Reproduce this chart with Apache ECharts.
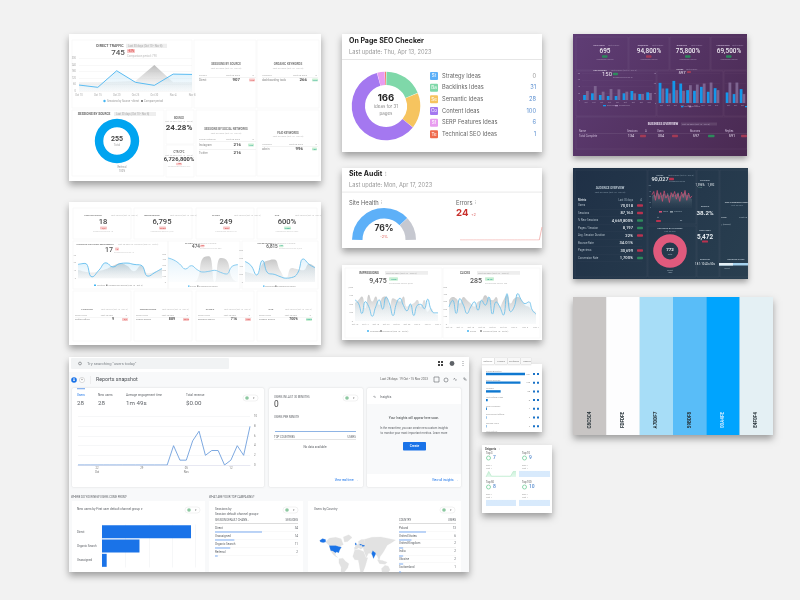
<!DOCTYPE html>
<html><head><meta charset="utf-8">
<style>html,body{margin:0;padding:0;background:#f2f2f2;overflow:hidden}#c{width:800px;height:600px;filter:blur(.5px)}</style>
<script src="https://cdn.jsdelivr.net/npm/echarts@6/dist/echarts.min.js"></script>
</head><body><div id="c"></div>
<script>
// ---------- data ----------
const directDays=['Oct 10','Oct 15','Oct 20','Oct 25','Oct 30','Nov 4','Nov 8'];
const directTraffic=[55,34,187,80,52,156,153];
const directCompare=[80,80,85,92,239,80,80];
const sourceDonut=[{name:'Referral',value:255}];
const seoIdeas=['Strategy Ideas','Backlinks Ideas','Semantic Ideas','Content Ideas','SERP Features Ideas','Technical SEO Ideas'];
const seoValues=[0,31,28,100,6,1];
const seoShort=['St','Ba','Se','Co','Sf','Te'];
const seoColors=['#5db0f8','#7fd8a9','#f6c45f','#a478f0','#e89cf0','#ef6a4c'];
const siteHealth=[76,24];
const errorsTrend=[0,0,0,0,0,0,0,0,0,0,0,0,0,0,0,0,0,0,0,0,0,0,0,0,0,0,0,0,0,0,24];
const gscDays=['Oct 10','','','Oct 14','','','Oct 18','','','Oct 22','','','Oct 26','','','Oct 30','','','Nov 3','','','Nov 5','','','Nov 7'];
const impressions=[620,520,220,570,420,140,420,620,350,700,500,160,520,670,460,300,500,160,460,490,360,640,340,240,240];
const impressionsPrev=[520,620,720,370,770,570,720,470,700,720,420,670,620,570,720,420,470,520,620,420,620,270,370,220,170];
const clicks=[232,321,143,343,254,143,232,299,187,321,254,366,134,299,232,120,410,165,232,410,321,276,299,187,134];
const clicksPrev=[321,366,343,276,366,321,276,232,299,321,388,343,321,366,232,321,388,276,343,366,321,254,232,187,165];
const kpiTitles=['CONSULTATION','IMPRESSIONS','CLICKS','CTR'];
const kpiValues=['18','6,795','249','600%'];
const kpiChips=['-6/7','-70.5%','-85%','+600%'];
const weekCats=['','','','','','','','','','','','',''];
const avgPosition=[18,19.3,2.1,10.7,20,14.7,19,19.7,18,17,3,7.7,12.9];
const avgPositionPrev=[10.7,8.6,7.7,9.4,12,16.3,19.3,16.3,9.4,16.3,6.4,8.6,12];
const clicksWeek=[432,396,324,234,294,222,180,192,210,174,144,282,312];
const clicksWeekPrev=[0,0,0,0,0,42,432,462,0,432,402,72,0];
const imprWeek=[512,416,176,536,216,192,136,96,112,216,576,440,360];
const imprWeekPrev=[256,216,176,456,536,560,296,96,352,320,296,456,376];
const tableMetric=['POSITION','IMPRESSIONS','CLICKS','CTR'];
const tableNames=['Surfing Offers','Search Engine','Branded Search','Organic Search'];
const tableVals=['9','889','716','700%'];
const gaDays=['19','20','21','22\nOct','23','24','25','26','27','28','29','30','31','01','02','03','04','05\nNov','06','07','08','09','10','11','12','13','14','15'];
const gaUsers=[0,0,0,0,0,0,0,0,0,0,0,0,0,0,0,4,1,1,5,7,2,3,3,0,1,4,2,8];
const channels=['Direct','Organic Search','Unassigned'];
const channelUsers=[19,8,1];
const sessionCh=['Direct','Unassigned','Organic Search','Referral'];
const sessionVals=[34,14,11,2];
const countries=['Poland','United States','United Kingdom','India','Ukraine','Switzerland'];
const countryUsers=[13,6,2,2,2,1];
const purpleCats=['Oct','Oct','Oct','Oct','Oct','Oct','Oct','Oct','Oct'];
const purpleA=[15,20,15,12,12,20,27,18,23];
const purpleAprev=[27,42,25,33,32,25,20,18,21];
const purpleB=[61,44,67,59,39,37,49,34,45];
const purpleBprev=[44,29,39,37,54,56,59,62,39];
const purpleC=[32,27,42];
const purpleCprev=[62,62,27];
const purpleKpis=['695','94,800%','75,800%','69,500%'];
const audienceNames=['Users','Sessions','% New Sessions','Pages / Session','Avg. Session Duration','Bounce Rate','Pageviews','Conversion Rate'];
const audienceVals=['70,018','87,163','4,669,800%','8,197','22%','34.01%','30,699','1,700%'];
const audienceChip=['#b8324f','#b8324f','#2d8a5c','#2d8a5c','#b8324f','','#b8324f','#2d8a5c'];
const darkLine=[60,75,35,80,40,70,30,78,45,60,25,70,50,75,40,65,30,72,48,80,35,68,45,55];
const darkPrev=[50,60,55,70,62,55,60,65,50,68,55,60,66,58,62,70,52,60,65,72,58,60,45,40];
const darkDonut=[772];
const paletteHex=['C8C5C4','FDFDFE','A7DDF7','59BDF8','00A4FE','E4F0F4'];
const referrers=['Google Analytics','Search Console','LinkedIn','Lost Referral Links','Page Programs','Online Event Official','Missing Links'];
const referrerVals=[181,160,68,8,4,2,2];
const referrerTabs=['Referrer','Placed','Surfaced','Search'];
const snippetTitles=['Top 3','Top 10','Top 50','Top 100'];
const snippetVals=['7','9','8','10'];
const miniCats=['','','','','','','','','','','',''];
const snippet3=[0,7,1,1,1,1,1,1,1,1,7,7];
const snippet10=[9,9,9,9,9,9,9,9,9,9,9,9];
const snippet50=[8,8,8,8,8,8,8,8,8,8,8,8];
const snippet100=[10,10,10,10,10,10,10,10,10,10,10,10];
// crude outlines (lon, lat) for the world map in the country card
const worldShapes={
 'Canada':[[-140,60],[-125,72],[-95,75],[-70,70],[-60,52],[-80,46],[-95,49],[-125,49]],
 'United States':[[-125,49],[-95,49],[-80,46],[-68,45],[-76,35],[-81,26],[-90,29],[-97,26],[-107,31],[-118,33]],
 'Alaska':[[-168,65],[-155,71],[-140,68],[-140,60],[-152,58],[-165,60]],
 'Greenland':[[-55,60],[-60,76],[-35,83],[-20,74],[-40,62]],
 'Mexico':[[-118,33],[-107,31],[-97,26],[-95,18],[-85,12],[-95,15],[-107,22]],
 'Brazil':[[-80,8],[-62,10],[-50,0],[-35,-7],[-40,-20],[-55,-33],[-71,-33],[-70,-18],[-80,-5]],
 'Europe':[[-10,37],[-9,44],[0,50],[10,55],[8,62],[22,68],[35,68],[40,48],[30,42],[20,38],[10,42],[0,38]],
 'Poland':[[14,54],[23,54],[24,50],[15,50]],
 'United Kingdom':[[-6,50],[1,51],[-2,58],[-7,57]],
 'Ukraine':[[24,52],[38,50],[37,46],[25,46]],
 'Africa':[[-17,15],[-8,35],[10,37],[32,31],[43,12],[51,11],[40,-15],[30,-33],[18,-33],[12,-10],[8,4],[-8,5]],
 'Asia':[[40,48],[35,68],[70,75],[110,76],[140,72],[178,66],[160,58],[140,50],[130,38],[122,28],[108,15],[103,2],[95,16],[88,22],[80,28],[68,25],[55,25],[45,13],[35,30],[30,42]],
 'India':[[68,24],[74,34],[80,30],[88,26],[87,21],[80,12],[77,8],[73,17]],
 'Iran':[[45,38],[60,37],[62,26],[50,29]],
 'Indonesia':[[95,5],[118,3],[140,-3],[130,-9],[105,-7]],
 'Australia':[[114,-22],[130,-12],[145,-15],[153,-27],[145,-33],[116,-33]]
};
// ---------- helpers ----------
const SANS='Roboto, sans-serif', INTER='Inter, sans-serif';
const gfx=[], grid=[], xAxis=[], yAxis=[], series=[];
function R(x,y,w,h,fill,extra){gfx.push({type:'rect',z:(extra&&extra.z)||-5,silent:true,shape:{x,y,width:w,height:h,r:(extra&&extra.r)||0},style:Object.assign({fill},extra&&extra.style)});}
function card(x,y,w,h,fill){R(x,y,w,h,fill,{z:-20,style:{shadowBlur:7,shadowOffsetY:4,shadowColor:'rgba(0,0,0,.35)'}});}
function panel(x,y,w,h,stroke){R(x,y,w,h,'rgba(0,0,0,0)',{z:-10,style:{stroke:stroke||'#f6f6f6',lineWidth:.7}});}
function C(cx,cy,r,fill,stroke,lw){gfx.push({type:'circle',z:-4,silent:true,shape:{cx,cy,r},style:{fill:fill||'none',stroke:stroke||'none',lineWidth:lw||1}});}
function T(x,y,s,size,color,o){o=o||{};gfx.push({type:'text',z:20,silent:true,x,y,style:{text:s,fontSize:size,fontFamily:o.f||SANS,fontWeight:o.w||'normal',fill:color||'#555',align:o.a||'left',verticalAlign:'middle',textAlign:o.a||'left',textVerticalAlign:'middle'}});}
function chip(x,y,w,h,fill,s,color){R(x,y-h/2,w,h,fill,{r:.7});if(s)T(x+w/2,y,s,h*.7,color||'#fff',{a:'center',w:'bold'});}
function cart(x,y,w,h,cats,yo,xo){yo=yo||{};xo=xo||{};const i=grid.length;
 grid.push({left:x,top:y,width:w,height:h,containLabel:false,show:false});
 xAxis.push({type:'category',gridIndex:i,data:cats,boundaryGap:!!xo.gap,axisLine:{show:!!xo.line,lineStyle:{color:xo.line||'#ddd',width:.6}},axisTick:{show:false},splitLine:{show:false},
   axisLabel:{show:xo.size>0,fontSize:xo.size||3,color:xo.color||'#aaa',margin:xo.margin||2,interval:xo.interval===undefined?0:xo.interval,fontFamily:SANS,lineHeight:(xo.size||3)+.6}});
 yAxis.push({type:'value',gridIndex:i,min:yo.min||0,max:yo.max,interval:yo.interval,position:yo.right?'right':'left',axisLine:{show:false},axisTick:{show:false},
   splitLine:{show:!!yo.split,lineStyle:{color:yo.split||'#eee',width:.5}},
   axisLabel:{show:yo.size>0,fontSize:yo.size||3,color:yo.color||'#aaa',margin:yo.margin||2,fontFamily:SANS,hideOverlap:false}});
 return i;}
function hcart(x,y,w,h,cats,o){o=o||{};const i=grid.length;
 grid.push({left:x,top:y,width:w,height:h,show:false});
 xAxis.push({type:'value',gridIndex:i,min:0,max:o.max,interval:o.interval,axisLine:{show:false},axisTick:{show:false},axisLabel:{show:false},splitLine:{show:!!o.split,lineStyle:{color:o.split||'#eee',width:.5}}});
 yAxis.push({type:'category',gridIndex:i,data:cats,inverse:true,axisLine:{show:false},axisTick:{show:false},axisLabel:{show:false},splitLine:{show:false}});
 return i;}
function line(g,data,color,o){o=o||{};const s={type:'line',xAxisIndex:g,yAxisIndex:g,data,showSymbol:false,smooth:o.smooth||false,silent:true,animation:false,z:o.z||3,
  lineStyle:{color,width:o.w===undefined?1:o.w,type:o.type||'solid'},itemStyle:{color}};
 if(o.area)s.areaStyle={opacity:1,color:{type:'linear',x:0,y:0,x2:0,y2:1,colorStops:[{offset:0,color:o.area[0]},{offset:1,color:o.area[1]}]}};
 series.push(s);}
function bar(g,data,color,o){o=o||{};series.push(Object.assign({type:'bar',xAxisIndex:g,yAxisIndex:g,data,silent:true,animation:false,itemStyle:{color},barWidth:o.bw,barGap:o.gap||'0%',z:3},o.extra||{}));}
function ring(cx,cy,r0,r1,data,colors,extra){series.push(Object.assign({type:'pie',center:[cx,cy],radius:[r0,r1],silent:true,animation:false,label:{show:false},labelLine:{show:false},
  data:data.map((d,i)=>({value:d.value!==undefined?d.value:d,name:d.name||String(i),itemStyle:{color:colors[i]}})),startAngle:90,clockwise:true,z:3},extra||{}));}

// ---------- card A : traffic ----------
card(69,34,252,147,'#fff');
[[72,40,120,68],[194,40,62,68],[257,40,62,68],[72,110,92,66],[166,110,28,34],[166,145,28,32],[196,110,60,66],[257,110,62,66]].forEach(p=>panel(...p));
T(110,46,'DIRECT TRAFFIC',3.6,'#666',{a:'center',w:'bold'});
R(126,43.8,41,4.2,'#eee');T(128,46,'Last 30 days (Oct 10 - Nov 8)',2.7,'#aaa');
T(118,53,'745',8,'#555',{a:'center',w:'500'});
chip(127,51,8,4,'#f7c6c6','-61%','#d55');T(127,56,'Comparison period: 790',2.8,'#bbb');
{const g=cart(79,58.5,113,32.5,directDays,{max:300,interval:60,size:2.6,split:'#f0f0f0',margin:3},{size:2.6,margin:3});
 line(g,directCompare,'#c8c8c8',{w:0,area:['rgba(165,165,165,.75)','rgba(235,235,235,.2)'],z:2});
 line(g,directTraffic,'#5bbcf2',{w:1,area:['rgba(170,220,245,.45)','rgba(225,240,248,.2)'],z:3});}
C(104.5,101,1.2,'#43b5f2');T(107,101,'Sessions by Source - direct',2.7,'#999');
R(141,100,2,2,'#888');T(144,101,'Compare period',2.7,'#999');
T(226,64,'SESSIONS BY SOURCE',2.9,'#777',{a:'center',w:'bold'});T(226,68,'Last 30 days (Oct 10 - Nov 8)',2.4,'#bbb',{a:'center'});
T(199,75,'Source',2.5,'#aaa');T(240,75,'Last 30 days',2.5,'#aaa',{a:'right'});T(254,75,'Δ',2.5,'#aaa',{a:'right'});
R(199,77,57,.4,'#e8e8e8');T(199,80,'Direct',2.8,'#888');T(240,80,'907',4.3,'#555',{a:'right',w:'bold'});chip(249,80,6,3,'#f7c6c6','-61%','#d55');
T(288,64,'ORGANIC KEYWORDS',2.9,'#777',{a:'center',w:'bold'});T(288,68,'Last 30 days (Oct 10 - Nov 8)',2.4,'#bbb',{a:'center'});
T(262,75,'Keyword',2.5,'#aaa');T(307,75,'Last 30 days',2.5,'#aaa',{a:'right'});T(317,75,'Δ',2.5,'#aaa',{a:'right'});
R(262,77,56,.4,'#e8e8e8');T(262,80,'dashboarding tools',2.8,'#888');T(307,80,'266',4.3,'#555',{a:'right',w:'bold'});chip(312,80,6,3,'#c9efd3','+24%','#3a9');
T(94,114,'SESSIONS BY SOURCE',3.2,'#666',{a:'center',w:'bold'});R(114,112,42,4,'#eee');T(116,114,'Last 30 days (Oct 10 - Nov 8)',2.6,'#aaa');
ring(117,141,13.7,22.2,sourceDonut,['#00a4f0']);
T(117,139,'255',7,'#444',{a:'center',w:'bold'});T(117,145,'Total',3,'#aaa',{a:'center'});
T(122,167,'Referral',2.6,'#999',{a:'center'});T(122,171,'100%',2.6,'#999',{a:'center'});
T(179,118,'BOUNCE',2.6,'#777',{a:'center',w:'bold'});T(179,121,'Last 30 days (Oct 10 - Nov 8)',2.2,'#bbb',{a:'center'});T(179,128,'24.28%',8,'#444',{a:'center',w:'bold'});
T(179,152,'CTR/CPC',2.6,'#777',{a:'center',w:'bold'});T(179,155,'Last 30 days (Oct 10 - Nov 8)',2.2,'#bbb',{a:'center'});T(179,160,'6,726,800%',5.8,'#444',{a:'center',w:'bold'});chip(176,164,6,2.6,'#f7c6c6','-15%','#d55');T(179,166.7,'Comparison period: 99%',2.1,'#ccc',{a:'center'});
T(226,129,'SESSIONS BY SOCIAL NETWORKS',2.8,'#777',{a:'center',w:'bold'});T(226,133,'Last 30 days (Oct 10 - Nov 8)',2.4,'#bbb',{a:'center'});
T(199,139,'Social Network',2.5,'#aaa');T(240,139,'Last 30 days',2.5,'#aaa',{a:'right'});T(254,139,'Δ',2.5,'#aaa',{a:'right'});
R(199,141,57,.4,'#e8e8e8');T(199,145,'Instagram',2.8,'#888');T(241,145,'216',4.3,'#555',{a:'right',w:'bold'});chip(248,145,6,3,'#c9efd3','+9%','#3a9');
R(199,149,57,.4,'#e8e8e8');T(199,153,'Twitter',2.8,'#888');T(241,153,'216',4.3,'#555',{a:'right',w:'bold'});
T(288,133,'PAID KEYWORDS',2.8,'#777',{a:'center',w:'bold'});T(288,136,'Last 30 days (Oct 10 - Nov 8)',2.4,'#bbb',{a:'center'});
T(262,144,'Keyword',2.5,'#aaa');T(303,144,'Last 30 days',2.5,'#aaa',{a:'right'});T(317,144,'Δ',2.5,'#aaa',{a:'right'});
R(262,146,56,.4,'#e8e8e8');T(262,149,'adwin',2.8,'#888');T(303,149,'996',4.3,'#555',{a:'right',w:'bold'});chip(312,149,5,3,'#c9efd3','+5%','#3a9');

// ---------- card B : SEO checker ----------
card(342,34,200,118,'#fff');
T(349,40.5,'On Page SEO Checker',7,'#222',{f:INTER,w:'bold'});T(420,40.5,'⁝',6,'#777',{f:SANS});
T(349,52,'Last update: Thu, Apr 13, 2023',5.7,'#999',{f:INTER});
R(342,59,200,.9,'#e6e6e6');
ring(386,106,21,34.3,seoValues.map((v,i)=>({name:seoIdeas[i],value:v})),seoColors,{padAngle:.6});
T(386,98.5,'166',9.6,'#222',{a:'center',f:INTER,w:'bold'});
T(386,107,'ideas for 31',4.4,'#888',{a:'center',f:INTER});T(386,114,'pages',4.4,'#888',{a:'center',f:INTER});
seoIdeas.forEach((n,i)=>{const y=76+i*11.67;R(430,y-4,8,8,seoColors[i],{r:1});T(434,y,seoShort[i],4.5,'#fff',{a:'center',f:INTER});
 T(442,y,n,5.7,'#666',{f:INTER});T(536,y,String(seoValues[i]),5.7,seoValues[i]?'#5b8fd0':'#999',{a:'right',f:INTER});});

// ---------- card C : site audit ----------
card(342,168,200,80,'#fff');
T(349,174,'Site Audit',7,'#222',{f:INTER,w:'bold'});T(385,174,'⁝',6,'#777');
T(349,185,'Last update: Mon, Apr 17, 2023',5.7,'#999',{f:INTER});
R(342,191.5,200,1.2,'#eee');
T(349,203,'Site Health',5.8,'#666',{f:INTER});T(381,203,'⁝',5,'#888');
T(456,203,'Errors',5.8,'#666',{f:INTER});T(475,203,'⁝',5,'#888');
ring(384,240,21.5,32,[siteHealth[0],siteHealth[1],100],['#5db0f8','#c6c8d0','rgba(0,0,0,0)'],{startAngle:180,padAngle:.6});
T(384,228,'76%',8.6,'#333',{a:'center',f:INTER,w:'bold'});T(384,236.5,'-2%',4,'#e0605a',{a:'center',f:INTER});
T(456,213.5,'24',9.6,'#c9302c',{f:INTER,w:'bold'});T(471,215,'+2',4,'#d66',{f:INTER});
{const g=cart(460,227,82,13,errorsTrend.map(()=>''),{max:24});line(g,errorsTrend,'#f1a9a6',{w:.8});}

// ---------- card D : GSC ----------
card(342,265,200,75,'#fff');panel(345,268,97,70);panel(443,268,97,70);
T(369,273,'IMPRESSIONS',3,'#666',{a:'center',w:'bold'});R(385,271,43,3.8,'#eee');T(386,273,'Last 28 days (Oct 10 - Nov 6)',2.4,'#aaa');
T(378,281,'9,475',7,'#555',{a:'center',w:'500'});chip(389,279,9,3.6,'#c9efd3','+18%','#3a9');T(389,283,'Comparison period: 8,025',2.1,'#bbb');
{const g=cart(355,287,83,34,gscDays,{max:1000,interval:250,size:2.3},{size:2.3,margin:1.5});
 line(g,impressionsPrev,'#ccc',{w:0,smooth:true,area:['rgba(175,175,175,.7)','rgba(230,230,230,.15)'],z:2});
 line(g,impressions,'#6fc1ea',{w:.9,smooth:true,area:['rgba(175,220,240,.28)','rgba(225,240,248,.12)']});}
C(368,331,1,'#43b5f2');T(370,331,'Impressions',2.3,'#999');C(381,331,1,'#888');T(383,331,'Previous (Sep 10 - Oct 9)',2.3,'#999');
T(465,273,'CLICKS',3,'#666',{a:'center',w:'bold'});R(477,271,43,3.8,'#eee');T(478,273,'Last 28 days (Oct 10 - Nov 6)',2.4,'#aaa');
T(476,281,'285',7,'#555',{a:'center',w:'500'});chip(485,279,9,3.6,'#c9efd3','+24%','#3a9');T(485,283,'Comparison period: 230',2.1,'#bbb');
{const g=cart(449,287,87,37,gscDays,{max:500,interval:100,size:2.3},{size:2.3,margin:1.5});
 line(g,clicksPrev,'#ccc',{w:0,smooth:true,area:['rgba(175,175,175,.7)','rgba(230,230,230,.15)'],z:2});
 line(g,clicks,'#6fc1ea',{w:.9,smooth:true,area:['rgba(175,220,240,.28)','rgba(225,240,248,.12)']});}
C(468,331,1,'#43b5f2');T(470,331,'Clicks',2.3,'#999');C(481,331,1,'#888');T(483,331,'Previous (Sep 10 - Oct 9)',2.3,'#999');

// ---------- card E : search console grid ----------
card(69,202,252,143,'#fff');
[[105,'#f7c6c6','#d55'],[165,'#f7c6c6','#d55'],[227,'#f7c6c6','#d55'],[287,'#c9efd3','#3a9']].forEach((k,i)=>{
 const cx=[103,162,226,287][i],x0=[73,134,196,257][i];
 panel(x0,208,[58,58,58,60][i],31);panel(x0,291,[58,58,58,60][i],50);
 T(cx-10,215.5,kpiTitles[i],2.4,'#777',{a:'center',w:'bold'});T(cx+8,215.5,'Last 28 days (Oct 10 - Nov 6)',2.1,'#bbb',{a:'left'});
 T(cx,222,kpiValues[i],7.6,'#444',{a:'center',w:'500'});
 chip(cx-3,228,7,3,k[1],kpiChips[i],k[2]);T(cx,231,'Comparison period: '+kpiValues[i],2,'#ccc',{a:'center'});
 const tx=x0+2;
 T(tx+12,309,tableMetric[i],2.5,'#777',{a:'center',w:'bold'});T(tx+26,309,'Last 28 days (Oct 10 - Nov 6)',2.1,'#bbb');
 T(tx,315,'Search Type',2.2,'#aaa');T(tx+38,315,'Last 28 days',2.2,'#aaa',{a:'right'});T(tx+52,315,'Δ',2.2,'#aaa',{a:'right'});
 R(tx,317,54,.4,'#eee');T(tx,319.5,tableNames[i],2.4,'#888');T(tx+39,319.5,tableVals[i],3.6,'#555',{a:'right',w:'bold'});
 chip(tx+47,319.5,6,2.8,k[1],kpiChips[i],k[2]);
});
panel(73,241,95,48);panel(168,241,72,48);panel(242,241,76,48);
T(95,244.7,'AVERAGE POSITION MOVEMENT',2.5,'#777',{a:'center',w:'bold'});T(118,244.7,'Last 28 days vs. Previous (Sep 10 - Oct 9)',2.2,'#bbb');
T(109,250,'17',7,'#555',{a:'center',w:'500'});chip(115,249,4,3,'#f7c6c6','-6','#d55');T(114,252.5,'Comparison period: 16',2,'#ccc');
{const g=cart(78,255,84,23.5,weekCats,{max:30,interval:10,size:2.2},{});
 line(g,avgPositionPrev,'#ccc',{w:0,smooth:true,area:['rgba(170,170,170,.65)','rgba(225,225,225,.25)'],z:2});
 line(g,avgPosition,'#62bdee',{w:.9,smooth:true,area:['rgba(170,220,245,.4)','rgba(225,240,248,.15)']});}
R(94,284.5,2,1.4,'#43b5f2');T(97,285,'Position',2.2,'#999');R(106,284.5,1.5,1.4,'#888');T(108.5,285,'Comparison period (Sep 10 - Oct 9)',2.2,'#999');
T(189,243,'CLICKS',2.3,'#777',{a:'center',w:'bold'});T(193,243,'Last 28 days vs. Previous',2.1,'#bbb');
T(196,247,'474',4.6,'#555',{a:'center',w:'500'});chip(200,246,4.5,2.6,'#f7c6c6','-46%','#d55');T(200,248.8,'Comparison period: 880',2,'#ccc');
{const g=cart(168,253,70,29,weekCats,{max:522,size:2.2},{});
 line(g,clicksWeekPrev,'#ccc',{w:0,smooth:true,area:['rgba(170,170,170,.65)','rgba(225,225,225,.25)'],z:2});
 line(g,clicksWeek,'#7cc6ee',{w:.9,smooth:true,area:['rgba(175,220,245,.38)','rgba(225,240,248,.12)']});}
R(188,285.5,1.5,1.3,'#43b5f2');T(190,286,'Clicks',2.2,'#999');R(197,285.5,1.5,1.3,'#888');T(199,286,'Comparison period',2.2,'#999');
T(265,243,'IMPRESSIONS',2.3,'#777',{a:'center',w:'bold'});T(272,243,'Last 28 days vs. Previous',2.1,'#bbb');
T(272,247,'6,815',4.6,'#555',{a:'center',w:'500'});chip(279,246,4.5,2.6,'#c9efd3','+3%','#3a9');T(279,248.8,'Comparison period: 6,605',2,'#ccc');
{const g=cart(245,250,70,32,weekCats,{max:800,size:2.2},{});
 line(g,imprWeekPrev,'#ccc',{w:0,smooth:true,area:['rgba(170,170,170,.65)','rgba(225,225,225,.25)'],z:2});
 line(g,imprWeek,'#6cc0ec',{w:.9,smooth:true,area:['rgba(175,220,245,.35)','rgba(225,240,248,.12)']});}
R(263,285.5,1.5,1.3,'#43b5f2');T(265,286,'Impressions',2.2,'#999');R(275,285.5,1.5,1.3,'#888');T(277,286,'Comparison period',2.2,'#999');

// ---------- card F : GA4 ----------
card(69,357,400,215,'#f8f9fa');
R(69,357,400,15,'#fff');R(71,358,158,11,'#f1f3f4',{r:1});
C(80,363.5,1.4,null,'#5f6368',.6);T(87,363.5,'Try searching "users today"',4.1,'#80868b');
[440,443].forEach(x=>[362,365].forEach(y=>R(x-2,y-1,2,2,'#444')));C(452,363.5,2.4,'#5f6368');T(463,363.5,'⋮',6,'#5f6368',{a:'center'});
C(74,380,2.8,'#1a73e8');T(74,380,'A',3,'#fff',{a:'center',w:'bold'});C(82,380,2.6,'#fff','#bbb',.5);T(82,380,'+',3.5,'#888',{a:'center'});R(90,376,.4,8,'#ddd');
T(96,380,'Reports snapshot',5.3,'#4b4f54');T(428,379.5,'Last 28 days  19 Oct - 15 Nov 2023',3.1,'#666',{a:'right'});
R(434,377,5,5,'none',{style:{stroke:'#5f6368',lineWidth:.6}});C(446,380,2,null,'#5f6368',.6);T(455,380,'∿',5,'#5f6368',{a:'center'});T(465,380,'✎',5,'#5f6368',{a:'center'});
R(72,388,192,99,'#fff',{r:1.5,z:-8,style:{shadowBlur:2,shadowColor:'rgba(0,0,0,.15)'}});
R(269,388,94,99,'#fff',{r:1.5,z:-8,style:{shadowBlur:2,shadowColor:'rgba(0,0,0,.15)'}});
R(367,388,94,99,'#fff',{r:1.5,z:-8,style:{shadowBlur:2,shadowColor:'rgba(0,0,0,.15)'}});
R(77,388,8,1.3,'#8ab4f0');
T(77,395.5,'Users',3.1,'#1a73e8');T(98,395.5,'New users',3.1,'#5f6368');T(126,395.5,'Average engagement time',3.1,'#5f6368');T(186,395.5,'Total revenue',3.1,'#5f6368');
T(77,403,'28',6.2,'#5f6368');T(98,403,'28',6.2,'#5f6368');T(126,403,'1m 49s',6.2,'#5f6368');T(186,403,'$0.00',6.2,'#5f6368');
const pill=(x,y)=>{R(x,y-3,15,6,'#fff',{r:3,style:{stroke:'#ddd',lineWidth:.4}});C(x+4,y,1.8,'#8cc8a0');T(x+10.5,y,'▾',3,'#777',{a:'center'});};
pill(243,398);pill(343,398);
{const g=cart(78,416.7,172,48.3,gaDays,{max:10,interval:2,size:2.8,right:true,split:'#eceff1',margin:4,color:'#777'},{size:2.8,color:'#777',margin:2,line:'#dde',
   interval:(i)=>[3,10,17,24].includes(i)});
 line(g,gaUsers,'#6f9fdc',{w:.9});}
T(274,397,'USERS IN LAST 30 MINUTES',2.8,'#5f6368');T(274,405,'0',8.4,'#444');T(274,417,'USERS PER MINUTE',2.8,'#5f6368');
R(275,431,81,.9,'#8fb4e4');T(274,437,'TOP COUNTRIES',2.8,'#5f6368');T(356,437,'USERS',2.8,'#5f6368',{a:'right'});R(274,439,82,.4,'#ccc');
T(315,447,'No data available',3,'#5f6368',{a:'center'});
T(358,480,'View real time  →',3,'#1a73e8',{a:'right'});
T(380,397,'Insights',3.2,'#5f6368');T(374,397,'∿',4,'#5f6368',{a:'center'});
R(367,404,94,70,'#f8f9fa');
T(414,418,'Your Insights will appear here soon.',3.2,'#3c4043',{a:'center'});
T(414,428.5,'In the meantime, you can create new custom insights',2.9,'#5f6368',{a:'center'});T(414,433.5,'to monitor your most important metrics. Learn more',2.9,'#5f6368',{a:'center'});
R(403,442,23,8.5,'#1a73e8',{r:.8});T(414.5,446.3,'Create',3.2,'#fff',{a:'center',w:'500'});
T(458,480,'View all insights  →',3,'#1a73e8',{a:'right'});
T(71,497,'WHERE DO YOUR NEW USERS COME FROM?',2.8,'#5f6368');T(209,497,'WHAT ARE YOUR TOP CAMPAIGNS?',2.8,'#5f6368');
R(72,501,133,71,'#fff',{z:-8});R(209,501,94,71,'#fff',{z:-8});R(308,501,153,71,'#fff',{z:-8});
T(77,509,'New users by First user default channel group ▾',3.1,'#5f6368');pill(185,510);
{const g=hcart(102,524.5,93.7,43,channels,{max:20,interval:5,split:'#eceff1'});
 bar(g,channelUsers,'#1a73e8',{bw:13});
 channels.forEach((n,i)=>T(77,532+i*14,n,2.9,'#5f6368'));}
T(215,509,'Sessions by',3.1,'#5f6368');T(215,514,'Session default channel group ▾',3.1,'#5f6368');pill(283,510);
T(215,520.5,'SESSION DEFAULT CHANN...',2.7,'#5f6368');T(298,520.5,'SESSIONS',2.7,'#5f6368',{a:'right'});R(215,523,83,.4,'#bbb');
{const g=hcart(215,528,47,32,sessionCh,{max:34});bar(g,sessionVals,'#7baaf0',{bw:1});
 sessionCh.forEach((n,i)=>{T(215,528+i*8,n,3,'#5f6368');T(298,528+i*8,String(sessionVals[i]),3,'#5f6368',{a:'right'});R(215,531.5+i*8,83,.3,'#e6e6e6');});}
T(314,509,'Users by Country',3.1,'#5f6368');pill(440,510);
T(399,520.5,'COUNTRY',2.7,'#5f6368');T(456,520.5,'USERS',2.7,'#5f6368',{a:'right'});R(399,523,57,.4,'#bbb');
{const g=hcart(399,528,27,48,countries,{max:13});bar(g,countryUsers,'#7baaf0',{bw:1});
 countries.forEach((n,i)=>{T(399,528+i*7.8,n,3,'#5f6368');T(456,528+i*7.8,String(countryUsers[i]),3,'#5f6368',{a:'right'});if(i<5)R(399,531.5+i*7.8,57,.3,'#e6e6e6');});}

// ---------- purple dashboard ----------
R(573,34,174,122,{type:'linear',x:0,y:0,x2:1,y2:1,colorStops:[{offset:0,color:'#5f3d75'},{offset:1,color:'#4a2a52'}]},{z:-20,style:{shadowBlur:6,shadowOffsetY:3,shadowColor:'rgba(0,0,0,.35)'}});
const pStroke='rgba(255,255,255,.08)';
[[576,37,52,33],[629,37,40,33],[670,37,40,33],[711,37,36,33],[576,71,80,45],[657,71,66,45],[724,71,23,45],[576,117,171,32]].forEach(p=>panel(...p,pStroke));
purpleKpis.forEach((v,i)=>{const cx=[605,649,688,729][i];
 T(cx-6,45,['SOLICITORS','ENQUIRIES','BOOKINGS','CONVERSION'][i],2.1,'#cbb8d6',{a:'center',w:'bold'});T(cx+3,45,'Last 30 days',2,'#9d86ac');
 T(cx,51,v,6.4,'#f0ecf3',{a:'center',w:'500'});chip(cx-3,56.5,5.5,2.4,i==1?'#a33b56':'#2d8a5c','');T(cx,59.5,'Comparison period',2,'#a48fb3',{a:'center'});});
{T(600,70.6,'SOLICITORS',2.4,'#d8cde0',{a:'center',w:'bold'});T(611,70.6,'Last 30 days (Oct 10 - Nov 8)',2,'#9d86ac');
 T(607,75,'150',5.8,'#eee6f2',{a:'center'});chip(613,74,5,2.3,'#2d8a5c','');T(613,77,'Comparison period: 91',2,'#a48fb3');
 const g=cart(582,73.3,71,26.7,purpleCats,{max:80,interval:20,size:2,color:'#a48fb3',split:'rgba(255,255,255,.05)'},{gap:true,size:2,color:'#a48fb3',margin:1.5});
 bar(g,purpleA,'#1497ea',{bw:2.8});bar(g,purpleAprev,'#7d6490',{bw:2.8});
 R(603,105,3,1.3,'#1497ea');T(607,105.5,'Sessions',2,'#a48fb3');R(615,105,3,1.3,'#a78bb8');T(619,105.5,'Comparison',2,'#a48fb3');}
{T(680,69.8,'USERS',2.2,'#d8cde0',{a:'center',w:'bold'});T(686,69.8,'Last 30 days',2,'#9d86ac');T(682,72.6,'597',4.2,'#eee6f2',{a:'center'});chip(687,72,4,2,'#a33b56','');
 const g=cart(658,73.3,62,29.7,purpleCats,{max:90,interval:30,size:2,color:'#a48fb3',split:'rgba(255,255,255,.05)'},{gap:true,size:2,color:'#a48fb3',margin:1.5});
 bar(g,purpleB,'#1497ea',{bw:2.8});bar(g,purpleBprev,'#7d6490',{bw:2.8});
 R(681,106,2.4,1.3,'#1497ea');T(684,106.5,'Users',2,'#a48fb3');R(689,106,2.4,1.3,'#a78bb8');T(692,106.5,'Compare',2,'#a48fb3');}
{const g=cart(725,73.3,21,29.7,['Oct','Oct','Oct'],{max:90,interval:30,split:'rgba(255,255,255,.05)'},{gap:true,size:2,color:'#a48fb3',margin:1.5});
 bar(g,purpleC,'#1497ea',{bw:2.8});bar(g,purpleCprev,'#7d6490',{bw:2.8});R(745,106,2,1.3,'#1497ea');}
T(663,124,'BUSINESS OVERVIEW',3.1,'#e3d9ea',{a:'center',w:'bold'});R(681,122.6,36,3,'rgba(255,255,255,.1)');T(682,124,'Last 30 days (Oct 10 - Nov 8)',2.2,'#a48fb3');
['Name','Sessions','Δ','Users','Bounces','Replies'].forEach((s,i)=>T([579,627,645,657,690,725][i],131,s,2.6,'#cbb8d6'));
R(579,133,168,.4,'rgba(255,255,255,.15)');
T(579,136.5,'Total Complete',2.7,'#cbb8d6');
T(631,136,'134',3.8,'#e3d9ea',{a:'center'});chip(640,136,6,2.6,'#a33b56','');T(661,136,'304',3.8,'#e3d9ea',{a:'center'});chip(672,136,6,2.6,'#a33b56','');
T(696,136,'597',3.8,'#e3d9ea',{a:'center'});chip(708,136,6.5,2.6,'#2d8a5c','');T(732,136,'591',3.8,'#e3d9ea',{a:'center'});chip(741,136,6,2.6,'#a33b56','');

// ---------- navy dashboard ----------
R(573,168,175,111,{type:'linear',x:0,y:0,x2:1,y2:1,colorStops:[{offset:0,color:'#1f3046'},{offset:1,color:'#293f50'}]},{z:-20,style:{shadowBlur:6,shadowOffsetY:3,shadowColor:'rgba(0,0,0,.35)'}});
const nStroke='rgba(255,255,255,.06)';
[[575,170,72,107],[648,170,48,54],[648,226,48,51],[697,170,22,107],[720,170,28,107]].forEach(p=>panel(...p,nStroke));
T(610,188,'AUDIENCE OVERVIEW',2.9,'#b6c4cf',{a:'center',w:'bold'});T(610,192,'Last 30 days (Oct 10 - Nov 8)',2.4,'#7f93a3',{a:'center'});
T(578,200,'Metric',2.8,'#cfd8df',{w:'bold'});T(633,200,'Last 30 days',2.6,'#9fb0bc',{a:'right'});T(642,200,'Δ',2.6,'#9fb0bc',{a:'right'});
audienceNames.forEach((n,i)=>{const y=205.5+i*7.5;T(578,y,n,2.8,'#aebcc7');T(633,y,audienceVals[i],4.1,'#e6ecf0',{a:'right',w:'500'});if(audienceChip[i])chip(637,y,6,2.4,audienceChip[i],'');R(578,y+3.4,64,.3,'rgba(255,255,255,.09)');});
T(660,175,'USERS',2.2,'#b6c4cf',{a:'center',w:'bold'});T(668,175,'Last 30 days (Oct 10 - Nov 8)',2,'#7f93a3');
T(660,180,'90,027',5.6,'#e6ecf0',{a:'center',w:'500'});chip(669,179,5,2.4,'#b8324f','');T(669,182,'Comparison period',1.9,'#7f93a3');
{const g=cart(652,186,40,22,darkLine.map(()=>''),{max:100,interval:25,size:1.8,color:'#7f93a3',margin:1},{});
 line(g,darkPrev,'#8a98a3',{w:0,smooth:true,area:['rgba(150,165,175,.55)','rgba(60,80,95,.1)'],z:2});
 line(g,darkLine,'#d64f74',{w:.7});}
R(659,211,3,1.6,'#d64f74');T(663,211.8,'Users',2,'#9fb0bc');R(670,211,3,1.6,'#8a98a3');T(674,211.8,'Previous',2,'#9fb0bc');
T(658,217,'▲',2.5,'#8a98a3',{a:'center'});chip(656,221,5,2,'#b8324f','');T(681,220,'50',2.2,'#9fb0bc',{a:'center'});
T(670,228,'SESSIONS BY CHANNEL',2.3,'#b6c4cf',{a:'center',w:'bold'});T(670,231,'Last 30 days',2,'#7f93a3',{a:'center'});
ring(670,251,8.4,16.8,darkDonut,['#e05a7d']);T(670,250,'772',4.4,'#e6ecf0',{a:'center',w:'bold'});T(670,254,'Total',2,'#9fb0bc',{a:'center'});
T(670,270,'Direct',2.2,'#9fb0bc',{a:'center'});T(670,272.7,'100%',2.1,'#9fb0bc',{a:'center'});
T(705,180,'SESSIONS',2.1,'#b6c4cf',{a:'center',w:'bold'});T(700,185,'1,396%',2.8,'#e6ecf0',{a:'center'});T(711,185,'1,592',2.8,'#e6ecf0',{a:'center'});T(700,188,'+4%',1.9,'#7fc59f',{a:'center'});
T(705,206,'BOUNCE',2.1,'#b6c4cf',{a:'center',w:'bold'});T(705,213,'38.2%',6.2,'#e6ecf0',{a:'center',w:'bold'});
T(705,230,'NEW USERS',2.1,'#b6c4cf',{a:'center',w:'bold'});T(705,237,'5,472',6.4,'#e6ecf0',{a:'center',w:'bold'});chip(702,241.5,6,2.2,'#b8324f','');
T(705,259,'DURATION',2.1,'#b6c4cf',{a:'center',w:'bold'});T(705,264,'18 1:10:42s 50s',2.8,'#e6ecf0',{a:'center'});
T(737,202,'TOP LANDING PAGES',2.5,'#cfd8df',{a:'center',w:'bold'});T(737,205.5,'Last 30 days',2.1,'#7f93a3',{a:'center'});
T(721,217,'Page',2.5,'#cfd8df');T(747,217,'Last 30',2.4,'#9fb0bc',{a:'right'});T(721,224,'/ (home)',2.5,'#aebcc7');
T(736,259,'BROWSER USAGE',2.1,'#b6c4cf',{a:'center',w:'bold'});R(719,263,29,2.5,'#a6d3ef');R(719,263,14,2.5,'#e4f0f6');T(727,268,'Direct',2,'#9fb0bc',{a:'center'});

// ---------- palette ----------
R(573,297,200,138,'#ddd',{z:-20,style:{shadowBlur:7,shadowOffsetY:4,shadowColor:'rgba(0,0,0,.35)'}});
{const g=cart(573,297,200,138,paletteHex,{max:1},{gap:true});
 series.push({type:'bar',xAxisIndex:g,yAxisIndex:g,barWidth:'100%',silent:true,animation:false,z:3,
  data:paletteHex.map(h=>({value:1,itemStyle:{color:'#'+h},label:{color:h==='00A4FE'?'#cfeaff':'#263238'}})),
  label:{show:true,position:'insideBottom',distance:15,rotate:90,fontSize:4.6,fontWeight:'bold',fontFamily:SANS,align:'center',verticalAlign:'middle',
   formatter:p=>p.name}});}

// ---------- referrers panel ----------
referrerTabs.forEach((t,i)=>{const x=[482,495,508,521][i];R(x,358,[12,12,12,10][i],6.5,i?'#f8f8f8':'#fff',{z:-15,style:{shadowBlur:1,shadowColor:'rgba(0,0,0,.15)'}});T(x+6,361.3,t,2.5,'#777',{a:'center'});});
card(482,364,60,68,'#fff');
{const g=hcart(486,369.6,39,61,referrers,{max:181});
 bar(g,referrerVals,'#0f78d0',{bw:2.4});
 referrers.forEach((n,i)=>{const y=374+i*8.7;T(486,y-2.6,n,2.1,'#999');T(530,y,String(referrerVals[i]),2.2,'#888',{a:'right'});R(533,y-1,2,2,'#1a73c8');R(537,y-1,2,2,'#1a73c8');});
 T(486,431,'Lost Referral',2,'#bbb');}

// ---------- snippets panel ----------
card(482,445,70,68,'#fff');
T(485,449,'Snippets',2.8,'#555',{w:'bold'});T(499,449,'⁝',3,'#999');
snippetTitles.forEach((t,i)=>{const x=i%2?522:486,y=i<2?453:482;
 T(x,y,t,2.6,'#555');C(x+2.5,y+5,2,null,'#8fd8ae',1);T(x+7,y+5,snippetVals[i],5,'#5b8fd0',{w:'500'});
 T(x,y+12,'new: 1',2.2,'#999');T(x,y+15,'lost: 1',2.2,'#999');});
{const g=cart(486,471,30,6,miniCats,{max:7.5});line(g,snippet3,'#a6e3bc',{w:.5,area:['rgba(200,240,215,.9)','rgba(225,248,235,.9)']});}
{const g=cart(519,471,31,6,miniCats,{max:9});line(g,snippet10,'#d8eafc',{w:.5,area:['#d8eafc','#d8eafc']});}
{const g=cart(486,500,30,6,miniCats,{max:8});line(g,snippet50,'#d8eafc',{w:.5,area:['#d8eafc','#d8eafc']});}
{const g=cart(519,500,31,6,miniCats,{max:10});line(g,snippet100,'#d8eafc',{w:.5,area:['#d8eafc','#d8eafc']});}

// ---------- world map ----------
const geo={type:'FeatureCollection',features:Object.keys(worldShapes).map(n=>({type:'Feature',properties:{name:n},geometry:{type:'Polygon',coordinates:[worldShapes[n].concat([worldShapes[n][0]])]}}))};
echarts.registerMap('mini',geo);
const mapBlue=countries.concat(['Alaska']);
const mapOpt={map:'mini',roam:false,silent:true,left:317,top:534,width:79,height:38,aspectScale:.72,boundingCoords:[[-180,85],[180,-33]],
 label:{show:false},itemStyle:{areaColor:'#e2e2e2',borderColor:'#e2e2e2',borderWidth:.2},
 regions:mapBlue.map(n=>({name:n,itemStyle:{areaColor:'#1a73e8'}}))};

const chart=echarts.init(document.getElementById('c'),null,{renderer:'canvas',width:800,height:600});
chart.setOption({animation:false,backgroundColor:'#f2f2f2',tooltip:{show:false},graphic:{elements:gfx},grid,xAxis,yAxis,geo:mapOpt,series});
</script></body></html>
